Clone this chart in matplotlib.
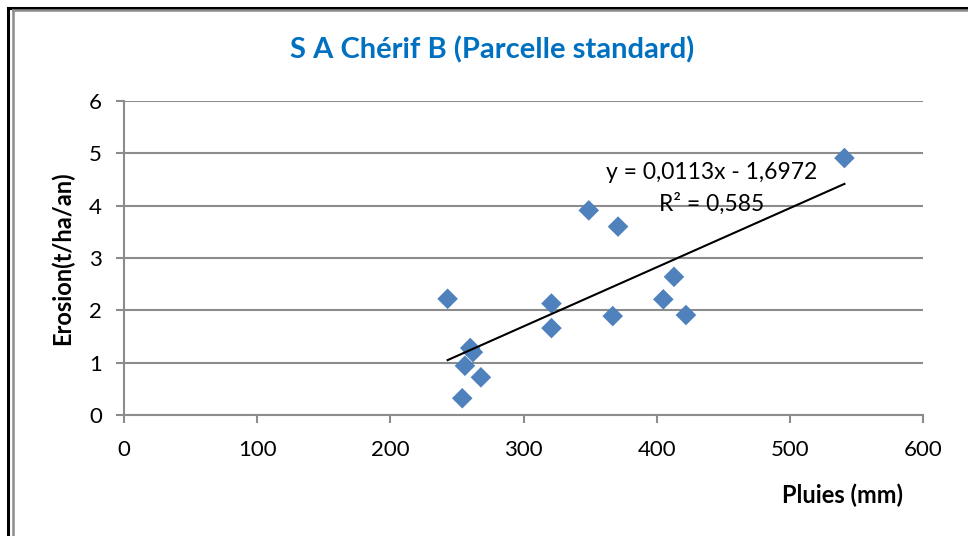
import matplotlib
matplotlib.use("Agg")
import matplotlib.pyplot as plt
from matplotlib.lines import Line2D
import numpy as np

plt.rcParams['font.family'] = ['Lato', 'DejaVu Sans']

# Data
pluies = [243, 254, 256, 260, 262, 268, 321, 321, 349, 367, 371, 405, 413, 422, 541]
erosion = [2.22, 0.32, 0.94, 1.28, 1.20, 0.72, 2.13, 1.66, 3.91, 1.89, 3.60, 2.21, 2.64, 1.91, 4.91]
slope = 0.0113
intercept = -1.6972
eq_text = "y = 0,0113x - 1,6972"
r2_text = "R² = 0,585"
title = "S A Chérif B (Parcelle standard)"
xlabel = "Pluies (mm)"
ylabel = "Erosion(t/ha/an)"
xticks = [0, 100, 200, 300, 400, 500, 600]
yticks = [0, 1, 2, 3, 4, 5, 6]

W, H = 968, 536
fig = plt.figure(figsize=(W / 100, H / 100), dpi=100)
ax = fig.add_axes([124 / W, 1 - 415 / H, (923 - 124) / W, (415 - 101) / H])

ax.scatter(pluies, erosion, marker='D', s=110, color='#4F81BD', edgecolors='none', zorder=3)

xs = np.array([min(pluies), max(pluies)])
ax.plot(xs, slope * xs + intercept, color='black', lw=1.5, zorder=4)

ax.set_xlim(0, 600)
ax.set_ylim(0, 6)
ax.set_xticks(xticks)
ax.set_yticks(yticks)
ax.set_xticklabels([str(v) for v in xticks], fontsize=16)
ax.set_yticklabels([str(v) for v in yticks], fontsize=16)
ax.grid(axis='y', color='#8C8C8C', lw=1.5)
ax.set_axisbelow(True)
for s in ['top', 'right']:
    ax.spines[s].set_visible(False)
for s in ['left', 'bottom']:
    ax.spines[s].set_color('#8C8C8C')
    ax.spines[s].set_linewidth(1.5)
ax.tick_params(axis='both', direction='out', length=6, width=1.5, color='#8C8C8C')
ax.tick_params(axis='x', pad=12)
ax.tick_params(axis='y', pad=10)

fig.text(492 / W, 1 - 50 / H, title, ha='center', va='center', fontsize=21,
         fontweight='bold', color='#0070C0')
fig.text(843 / W, 1 - 495 / H, xlabel, ha='center', va='center', fontsize=17, fontweight='bold')
fig.text(62 / W, 1 - 258 / H, ylabel, ha='center', va='center', fontsize=17,
         fontweight='bold', rotation=90)

ax.text(441, 4.64, eq_text, ha='center', va='center', fontsize=16.5)
ax.text(441, 4.03, r2_text, ha='center', va='center', fontsize=16.5)

# Border lines (chart frame)
fig.add_artist(Line2D([7.5 / W, 7.5 / W], [0, 1 - 7.5 / H], transform=fig.transFigure, color='black', lw=2.2))
fig.add_artist(Line2D([7.5 / W, 1], [1 - 7.5 / H, 1 - 7.5 / H], transform=fig.transFigure, color='black', lw=2.2))
fig.add_artist(Line2D([12.5 / W, 12.5 / W], [0, 1 - 9.5 / H], transform=fig.transFigure, color='#8C8C8C', lw=1.8))
fig.add_artist(Line2D([12.5 / W, 1], [1 - 9.5 / H, 1 - 9.5 / H], transform=fig.transFigure, color='#8C8C8C', lw=1.8))

fig.savefig('out.png', dpi=100)
